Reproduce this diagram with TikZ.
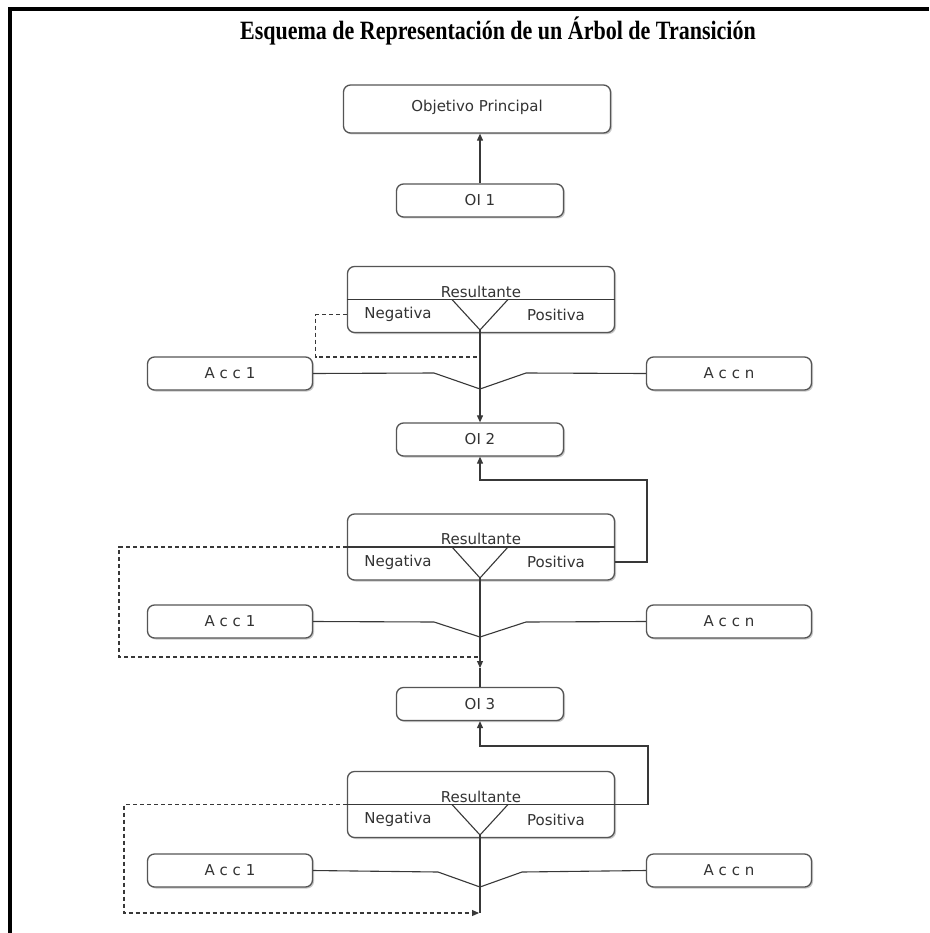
\documentclass[tikz,border=0pt]{standalone}
\usepackage{fontspec}
\setmainfont{Liberation Serif}
\newfontfamily\lblfont{DejaVu Sans}
\usepackage{tikz}
\usetikzlibrary{arrows.meta,positioning,calc,shadows}
\definecolor{linegray}{HTML}{383838}
\definecolor{boxgray}{HTML}{555555}
\definecolor{txtgray}{HTML}{333333}

\begin{document}
\begin{tikzpicture}[
  x=1pt, y=-1pt,
  font=\lblfont\fontsize{15}{18}\selectfont,
  box/.style={draw=boxgray, line width=1.3pt, rounded corners=7pt, fill=white, text=txtgray, inner sep=0pt,
    drop shadow={shadow xshift=1.5pt, shadow yshift=-1.5pt, fill=black!22, opacity=1}},
  oibox/.style={box, minimum width=167pt, minimum height=33pt},
  accbox/.style={box, minimum width=165pt, minimum height=33pt},
  resbox/.style={box, minimum width=267pt, minimum height=66pt},
  lbl/.style={inner sep=0pt, text=txtgray},
  ln/.style={draw=linegray, line width=1.1pt},
  arr/.style={ln, -{Triangle[length=7pt,width=6pt]}},
  dsh/.style={ln, dashed, dash pattern=on 4pt off 3pt}
]
\useasboundingbox (0,0) rectangle (929,933);
\fill[white] (0,0) rectangle (929,933);
\draw[line width=4pt] (10,933) -- (10,9) -- (929,9);

\node[font=\bfseries\fontsize{22}{26}\selectfont] (title) at (498,31)
  {\scalebox{1}[1.2]{Esquema de Representación de un Árbol de Transición}};

% objetivo principal
\node[box, minimum width=267pt, minimum height=48pt, text depth=6pt] (obj) at (477,109) {Objetivo Principal};
\node[oibox] (oi1) at (480,200.5) {OI 1};
\draw[arr] (oi1.north) -- (oi1.north |- obj.south);

% nivel 1
\node[resbox] (r1) at (481,299.5) {};
\draw[ln] (r1.west) -- (r1.east);
\coordinate (v1) at (480,330);
\draw[ln] ($(v1 |- r1.center)+(-28,0)$) -- (v1) -- ($(v1 |- r1.center)+(28,0)$);
\node[lbl] (res1) at ($(r1.center)+(0,-8)$) {Resultante};
\node[lbl] (neg1) at ($(r1.center)+(-83,15)$) {Negativa};
\node[lbl] (pos1) at ($(r1.center)+(75,15)$) {Positiva};
\node[accbox] (a11) at (230,373.5) {A c c 1};
\node[accbox] (a1n) at (729,373.5) {A c c n};
\coordinate (j1) at (480,389);
\coordinate (d1) at (480,357);
\node[oibox] (oi2) at (480,439.5) {OI 2};
\draw[ln] (a11.east) -- ($(j1)+(-46,-16)$) -- (j1) -- ($(j1)+(46,-16)$) -- (a1n.west);
\draw[arr] (v1) -- (oi2.north);
\draw[dsh] (r1.west |- neg1) -- ++(-31,0) |- (d1);

% nivel 2
\node[resbox] (r2) at (481,547) {};
\draw[ln] (r2.west) -- (r2.east);
\coordinate (v2) at (480,578);
\draw[ln] ($(v2 |- r2.center)+(-28,0)$) -- (v2) -- ($(v2 |- r2.center)+(28,0)$);
\node[lbl] (res2) at ($(r2.center)+(0,-8)$) {Resultante};
\node[lbl] (neg2) at ($(r2.center)+(-83,15)$) {Negativa};
\node[lbl] (pos2) at ($(r2.center)+(75,15)$) {Positiva};
\coordinate (f2) at (647,480);
\draw[arr] (r2.east |- pos2) -- (pos2 -| f2) -- (f2) -- (oi2.south |- f2) -- (oi2.south);
\node[accbox] (a21) at (230,621.5) {A c c 1};
\node[accbox] (a2n) at (729,621.5) {A c c n};
\coordinate (j2) at (480,637);
\coordinate (d2) at (480,657);
\coordinate (c2) at (119,657);
\coordinate (t2) at (480,668);
\node[oibox] (oi3) at (480,704) {OI 3};
\draw[ln] (a21.east) -- ($(j2)+(-46,-15)$) -- (j2) -- ($(j2)+(46,-15)$) -- (a2n.west);
\draw[arr] (v2) -- (t2);
\draw[ln] (t2) -- (oi3.north);
\draw[dsh] (r2.west) -| (c2) -- (d2);

% nivel 3
\node[resbox] (r3) at (481,804.5) {};
\draw[ln] (r3.west) -- (r3.east);
\coordinate (v3) at (480,835);
\draw[ln] ($(v3 |- r3.center)+(-28,0)$) -- (v3) -- ($(v3 |- r3.center)+(28,0)$);
\node[lbl] (res3) at ($(r3.center)+(0,-8)$) {Resultante};
\node[lbl] (neg3) at ($(r3.center)+(-83,15)$) {Negativa};
\node[lbl] (pos3) at ($(r3.center)+(75,15)$) {Positiva};
\coordinate (f3) at (648,746);
\draw[arr] (r3.east) -- (r3.east -| f3) -- (f3) -- (oi3.south |- f3) -- (oi3.south);
\node[accbox] (a31) at (230,870.5) {A c c 1};
\node[accbox] (a3n) at (729,870.5) {A c c n};
\coordinate (j3) at (480,887);
\coordinate (e3) at (480,913);
\coordinate (c3) at (124,913);
\draw[ln] (a31.east) -- ($(j3)+(-42,-15)$) -- (j3) -- ($(j3)+(42,-15)$) -- (a3n.west);
\draw[ln] (v3) -- (e3);
\draw[dsh, -{Triangle[length=7pt,width=6pt]}, shorten >=1pt] (r3.west) -| (c3) -- (e3);
\end{tikzpicture}
\end{document}
